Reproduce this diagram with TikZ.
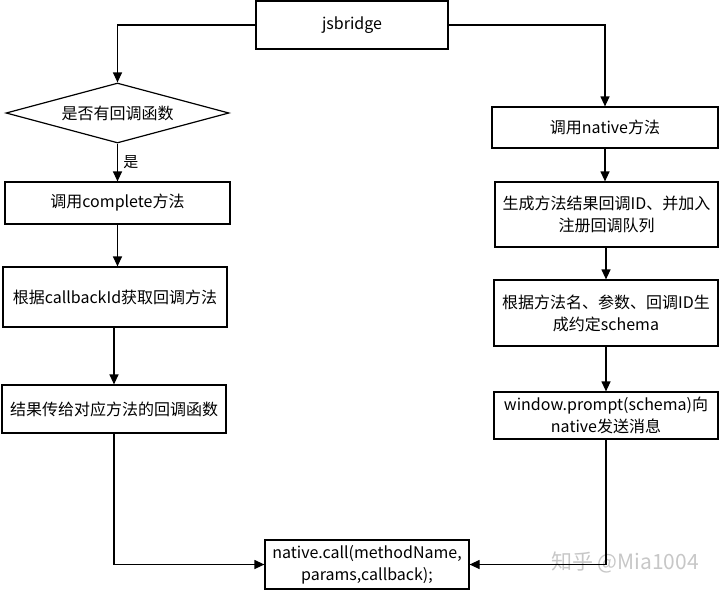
\documentclass[tikz,border=0pt]{standalone}
\usepackage{fontspec}
\setmainfont{Noto Sans CJK SC}
\usetikzlibrary{arrows.meta,shapes.geometric}
\tikzset{
  box/.style={draw, line width=1.2pt, rectangle, inner sep=0pt, align=center,
    font=\fontsize{16}{22}\selectfont},
  conn/.style={line width=1.2pt, -{Triangle[length=10pt,width=9pt]}},
}
\begin{document}
\begin{tikzpicture}[x=1pt,y=-1pt]
\useasboundingbox (0,0) rectangle (720,590);
\node[box, minimum width=192pt, minimum height=48pt] (js) at (352,25) {jsbridge};
\node[box, diamond, aspect=3.7, minimum width=223pt, minimum height=60pt] (dia) at (117.5,113) {是否有回调函数};
\node[box, minimum width=225pt, minimum height=42pt] (comp) at (117.5,203) {调用complete方法};
\node[box, minimum width=224pt, minimum height=60pt] (cb) at (115,297) {根据callbackId获取回调方法};
\node[box, minimum width=224pt, minimum height=48pt] (res) at (114,409) {结果传给对应方法的回调函数};
\node[box, minimum width=204pt, minimum height=49pt] (call) at (367,564.5) {native.call(methodName,\\params,callback);};
\node[box, minimum width=226pt, minimum height=41pt] (nat) at (605,127.5) {调用native方法};
\node[box, minimum width=223pt, minimum height=65pt] (gen) at (606.5,214.5) {生成方法结果回调ID、并加入\\注册回调队列};
\node[box, minimum width=224pt, minimum height=66pt] (sch) at (606,313) {根据方法名、参数、回调ID生\\成约定schema};
\node[box, minimum width=224pt, minimum height=47pt] (pr) at (606,415.5) {window.prompt(schema)向\\native发送消息};
\node[font=\fontsize{21}{24}\selectfont, text=black!22] (wm) at (625,562) {知乎 @Mia1004};

\draw[conn] (js.west) -| (dia.north);
\draw[conn] (dia.south) -- node[right, xshift=2pt, font=\fontsize{15}{18}\selectfont] (yes) {是} (comp.north);
\draw[conn] (comp.south) -- (comp.south |- cb.north);
\draw[conn] (res.north |- cb.south) -- (res.north);
\draw[conn] (res.south) |- (call.west);
\draw[conn] (js.east) -| (nat.north);
\draw[conn] (nat.south) -- (nat.south |- gen.north);
\draw[conn] (sch.north |- gen.south) -- (sch.north);
\draw[conn] (sch.south) -- (sch.south |- pr.north);
\draw[conn] (pr.south) |- (call.east);
\end{tikzpicture}
\end{document}
